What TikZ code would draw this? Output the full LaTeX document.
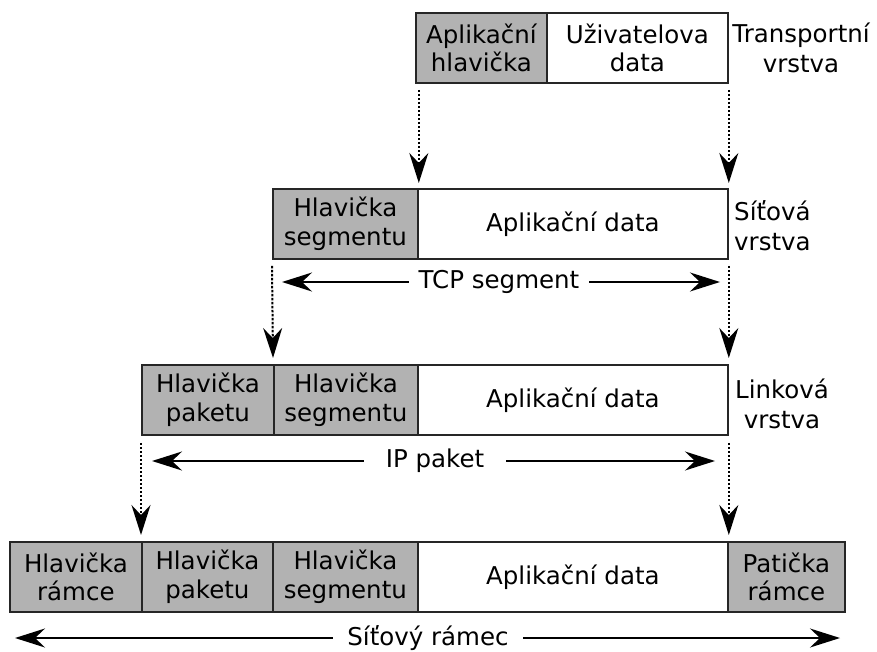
\documentclass[tikz,border=0pt]{standalone}
\usepackage{fontspec}
\setmainfont{DejaVu Sans}
\usetikzlibrary{arrows.meta}

\tikzset{
  cell/.style={draw=black!85, line width=1.8pt, minimum height=70pt,
    anchor=north west, inner sep=0pt, align=center,
    font=\fontsize{24.5}{28.5}\selectfont},
  hdr/.style={cell, fill=black!30},
  dat/.style={cell, fill=white},
  layer/.style={align=center, inner sep=0pt,
    font=\fontsize{24.5}{30}\selectfont},
  spanlabel/.style={fill=white, inner ysep=2pt,
    font=\fontsize{24.5}{28.5}\selectfont},
  head/.tip={Stealth[length=30pt, width=19pt, inset=10pt]},
  drop/.style={-head, line width=2pt, dash pattern=on 2.5pt off 1.5pt},
  span/.style={head-head, line width=1.8pt}
}

\begin{document}
\begin{tikzpicture}[x=1pt, y=-1pt]
  \useasboundingbox (0,0) rectangle (877,652);

  % transport layer
  \node[hdr, minimum width=131pt] (r1h) at (415,12) {Aplikační\\hlavička};
  \node[dat, minimum width=181pt] (r1d) at (546,12) {Uživatelova\\data};
  \node[layer] (l1) at (801,48) {Transportní\\vrstva};

  % network layer
  \node[hdr, minimum width=145pt] (r2h) at (272,188) {Hlavička\\segmentu};
  \node[dat, minimum width=310pt] (r2d) at (417,188) {Aplikační data};
  \node[layer, anchor=west, align=left] (l2) at (734,226) {Síťová\\vrstva};

  % link layer
  \node[hdr, minimum width=132pt] (r3p) at (141,364) {Hlavička\\paketu};
  \node[hdr, minimum width=144pt] (r3s) at (273,364) {Hlavička\\segmentu};
  \node[dat, minimum width=310pt] (r3d) at (417,364) {Aplikační data};
  \node[layer] (l3) at (782,404) {Linková\\vrstva};

  % frame
  \node[hdr, minimum width=132pt] (r4f) at (9,541) {Hlavička\\rámce};
  \node[hdr, minimum width=131pt] (r4p) at (141,541) {Hlavička\\paketu};
  \node[hdr, minimum width=145pt] (r4s) at (272,541) {Hlavička\\segmentu};
  \node[dat, minimum width=310pt] (r4d) at (417,541) {Aplikační data};
  \node[hdr, minimum width=117pt] (r4t) at (727,541) {Patička\\rámce};

  % encapsulation drops
  \draw[drop] ([yshift=-6pt]r2h.north east |- r1h.south) -- ([yshift=5pt]r2h.north east);
  \draw[drop] ([yshift=-6pt]r1d.south east) -- ([yshift=5pt]r2d.north east);
  \draw[drop] ([yshift=-6pt]r2h.south west) -- ([yshift=6pt]r3s.north west);
  \draw[drop] ([yshift=-6pt]r2d.south east) -- ([yshift=6pt]r3d.north east);
  \draw[drop] ([yshift=-7pt]r3p.south west) -- ([yshift=6pt]r4p.north west);
  \draw[drop] ([yshift=-7pt]r3d.south east) -- ([yshift=6pt]r4d.north east);

  % extents
  \coordinate (tcpL) at (282,282);
  \coordinate (tcpR) at (720,282);
  \draw[span] (tcpL) -- (tcpR);
  \node[spanlabel, inner xsep=10pt] (tcp) at (499,282) {TCP segment};

  \coordinate (ipL) at (152,461);
  \coordinate (ipR) at (715,461);
  \draw[span] (ipL) -- (ipR);
  \node[spanlabel, inner xsep=22pt] (ip) at (435,461) {IP paket};

  \coordinate (frL) at (15,638);
  \coordinate (frR) at (840,638);
  \draw[span] (frL) -- (frR);
  \node[spanlabel, inner xsep=14pt] (fr) at (428,638) {Síťový rámec};
\end{tikzpicture}
\end{document}
